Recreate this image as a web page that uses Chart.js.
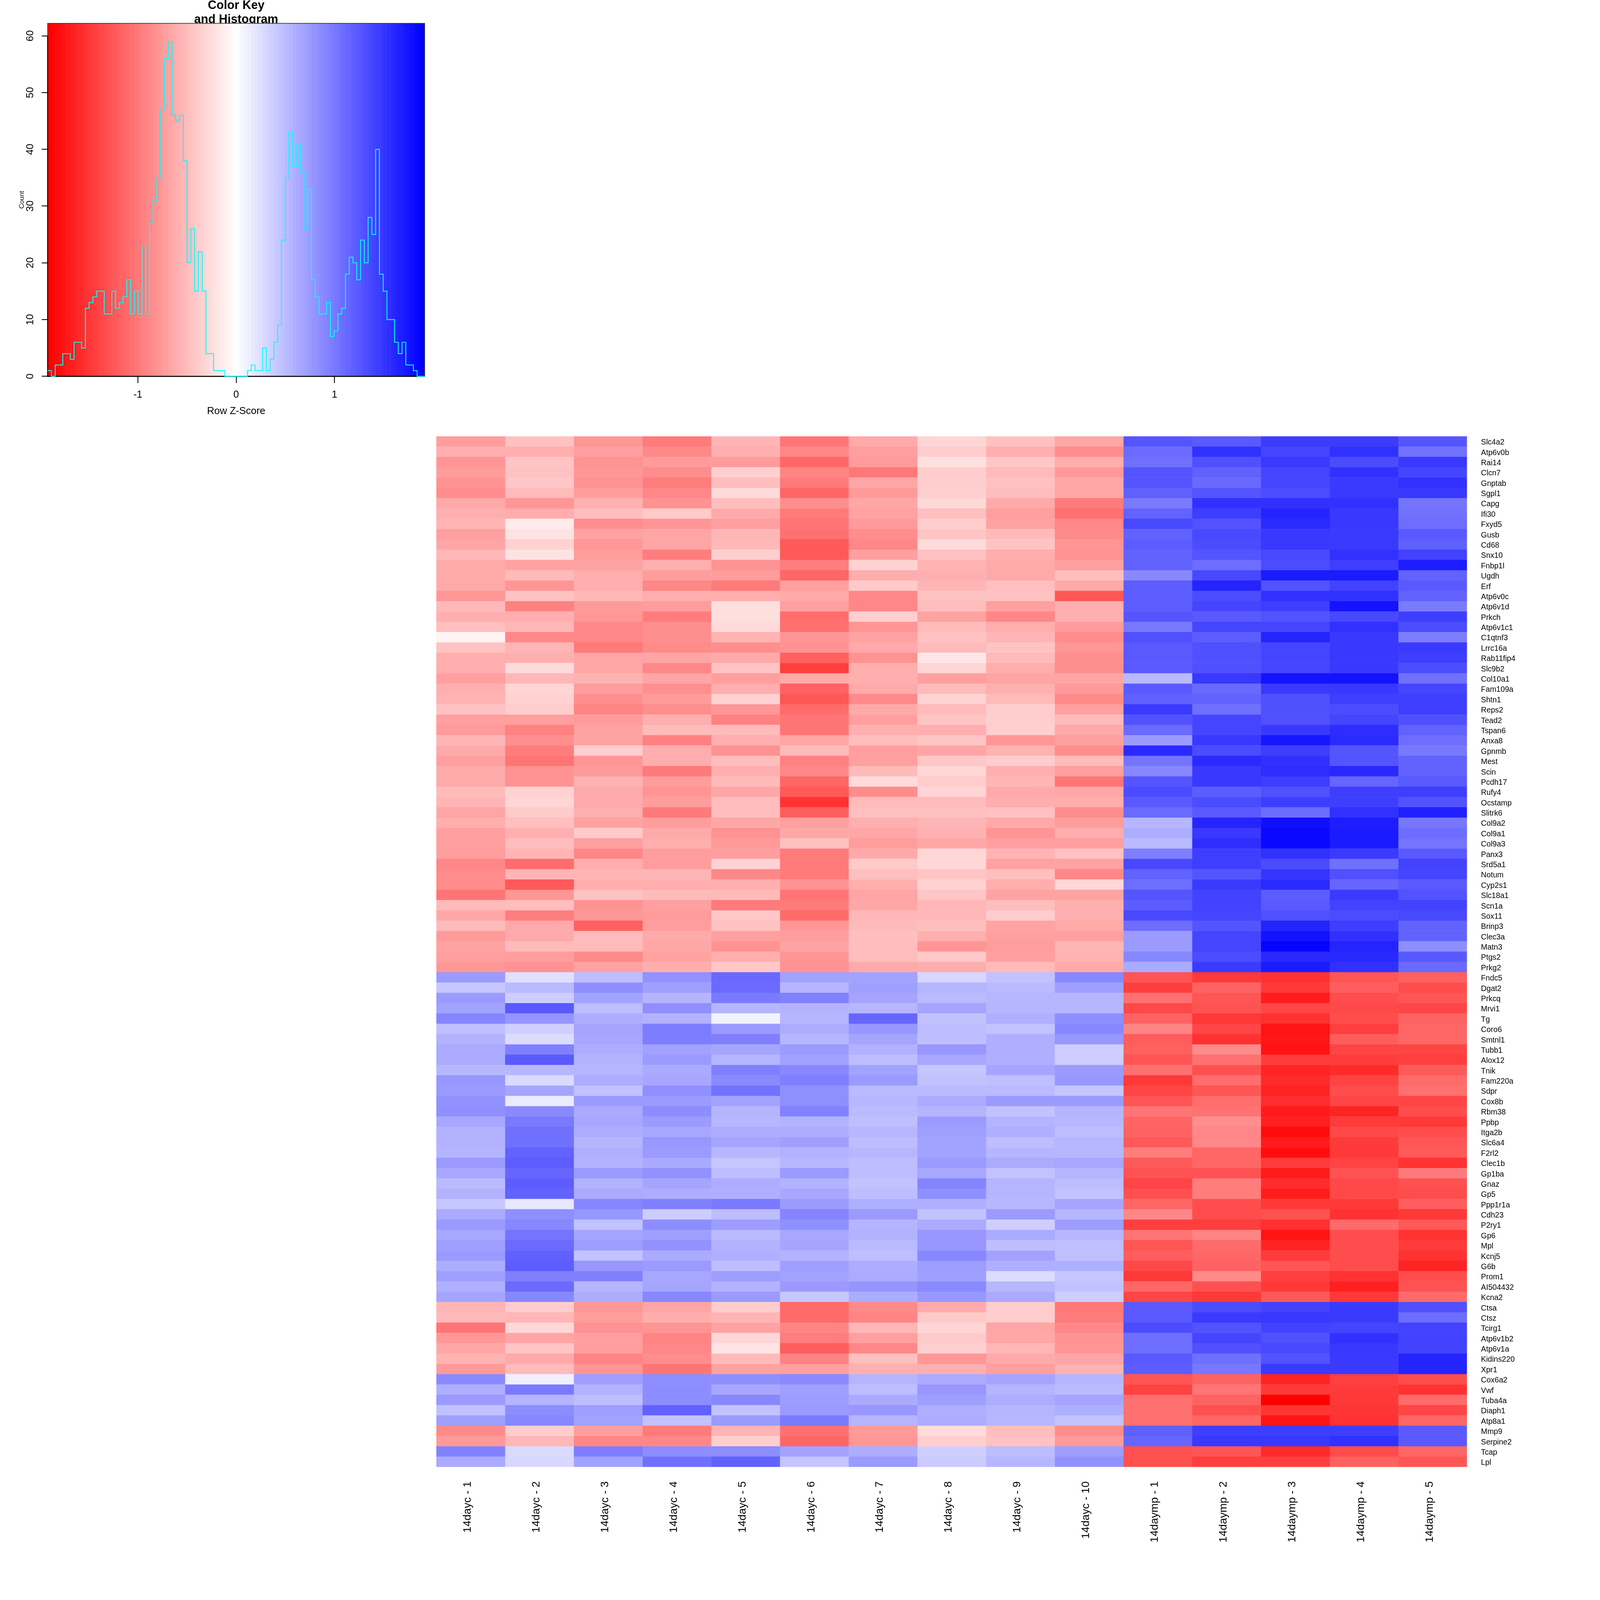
<!DOCTYPE html>
<html>
<head>
<meta charset="utf-8">
<style>
html,body{margin:0;padding:0;background:#fff;overflow:hidden}
canvas{position:absolute;left:0;top:0;display:block}
</style>
<script src="https://cdn.jsdelivr.net/npm/chart.js@4"></script>
</head>
<body>
<canvas id="heat" width="4800" height="4800"></canvas>
<canvas id="key" width="1320" height="1280"></canvas>
<script>
const samples = ["14dayc - 1","14dayc - 2","14dayc - 3","14dayc - 4","14dayc - 5","14dayc - 6","14dayc - 7","14dayc - 8","14dayc - 9","14dayc - 10","14daymp - 1","14daymp - 2","14daymp - 3","14daymp - 4","14daymp - 5"];
const genes = ["Slc4a2","Atp6v0b","Rai14","Clcn7","Gnptab","Sgpl1","Capg","Ifi30","Fxyd5","Gusb","Cd68","Snx10","Fnbp1l","Ugdh","Erf","Atp6v0c","Atp6v1d","Prkch","Atp6v1c1","C1qtnf3","Lrrc16a","Rab11fip4","Slc9b2","Col10a1","Fam109a","Shtn1","Reps2","Tead2","Tspan6","Anxa8","Gpnmb","Mest","Scin","Pcdh17","Rufy4","Ocstamp","Slitrk6","Col9a2","Col9a1","Col9a3","Panx3","Srd5a1","Notum","Cyp2s1","Slc18a1","Scn1a","Sox11","Brinp3","Clec3a","Matn3","Ptgs2","Prkg2","Fndc5","Dgat2","Prkcq","Mrvi1","Tg","Coro6","Smtnl1","Tubb1","Alox12","Tnik","Fam220a","Sdpr","Cox8b","Rbm38","Ppbp","Itga2b","Slc6a4","F2rl2","Clec1b","Gp1ba","Gnaz","Gp5","Ppp1r1a","Cdh23","P2ry1","Gp6","Mpl","Kcnj5","G6b","Prom1","AI504432","Kcna2","Ctsa","Ctsz","Tcirg1","Atp6v1b2","Atp6v1a","Kidins220","Xpr1","Cox6a2","Vwf","Tuba4a","Diaph1","Atp8a1","Mmp9","Serpine2","Tcap","Lpl"];

// Row z-scores in hundredths, one list per gene block
const blockA = [
[-74,-47,-79,-100,-56,-104,-64,-31,-47,-67,128,124,147,147,128],
[-60,-60,-72,-89,-60,-90,-72,-38,-60,-86,112,155,140,155,107],
[-80,-44,-82,-75,-75,-114,-75,-23,-42,-62,108,132,148,135,150],
[-74,-47,-78,-86,-36,-92,-102,-38,-52,-77,128,119,140,155,140],
[-82,-42,-81,-98,-50,-100,-66,-38,-47,-66,128,112,140,148,155],
[-86,-52,-74,-90,-28,-115,-76,-37,-49,-66,120,128,135,148,150],
[-65,-79,-58,-82,-49,-85,-66,-29,-64,-100,100,155,155,155,105],
[-60,-62,-50,-40,-64,-100,-70,-48,-72,-108,118,145,165,150,107],
[-56,-15,-84,-80,-72,-105,-76,-38,-70,-90,138,130,160,150,110],
[-72,-22,-70,-68,-55,-108,-86,-44,-52,-88,118,138,150,148,125],
[-68,-35,-78,-68,-53,-125,-90,-28,-45,-80,122,135,150,148,120],
[-54,-22,-74,-98,-37,-125,-72,-47,-62,-82,118,128,138,155,142],
[-64,-70,-70,-60,-82,-98,-34,-57,-64,-72,118,110,135,145,170],
[-64,-52,-62,-74,-74,-115,-62,-60,-64,-50,89,138,172,172,118],
[-64,-80,-60,-90,-100,-72,-40,-56,-48,-65,122,165,130,142,125],
[-78,-46,-54,-62,-62,-65,-90,-46,-46,-127,122,135,155,155,118],
[-53,-95,-76,-74,-25,-72,-90,-50,-72,-60,122,140,145,178,100],
[-60,-60,-78,-98,-25,-110,-36,-70,-90,-60,128,125,130,138,145],
[-48,-55,-90,-84,-28,-108,-80,-52,-62,-75,102,140,140,155,135],
[-8,-90,-90,-84,-57,-80,-70,-47,-56,-86,132,122,165,150,98],
[-45,-56,-100,-88,-85,-82,-64,-52,-45,-78,125,132,140,150,148],
[-60,-60,-68,-68,-64,-120,-82,-18,-52,-84,125,132,140,150,145],
[-62,-28,-66,-90,-45,-145,-62,-32,-62,-85,125,132,140,150,135],
[-72,-54,-58,-68,-72,-65,-60,-72,-68,-68,53,150,178,178,108],
[-60,-32,-74,-84,-62,-118,-64,-52,-60,-76,125,112,148,150,140],
[-58,-35,-84,-75,-35,-127,-88,-33,-52,-88,120,118,132,145,145],
[-47,-38,-92,-85,-78,-112,-64,-52,-38,-72,148,108,132,135,145],
[-72,-72,-75,-60,-95,-104,-72,-44,-38,-52,130,140,132,140,132],
[-76,-95,-70,-52,-52,-104,-60,-60,-37,-64,112,140,150,158,118],
[-56,-84,-70,-95,-60,-68,-50,-44,-78,-72,75,150,175,160,110],
[-64,-98,-37,-62,-82,-52,-72,-68,-58,-86,160,135,145,128,102],
[-72,-105,-80,-62,-50,-95,-72,-42,-38,-52,105,160,155,128,118],
[-64,-82,-76,-100,-60,-90,-52,-30,-60,-72,90,150,158,162,118],
[-64,-82,-58,-74,-52,-115,-28,-38,-55,-104,128,150,145,115,125],
[-52,-35,-64,-80,-66,-125,-86,-32,-64,-66,135,122,132,145,145],
[-56,-32,-64,-74,-50,-154,-52,-52,-62,-62,125,135,145,145,130],
[-68,-40,-60,-100,-50,-122,-48,-48,-47,-86,112,125,110,155,168],
[-60,-48,-70,-74,-66,-72,-60,-56,-64,-74,55,165,180,170,103],
[-72,-60,-40,-64,-82,-66,-66,-58,-80,-62,62,150,185,172,110],
[-72,-50,-72,-62,-76,-48,-74,-66,-72,-72,52,158,185,172,105],
[-74,-56,-90,-74,-74,-100,-64,-30,-57,-47,97,145,155,148,125],
[-90,-110,-62,-74,-33,-100,-40,-30,-70,-70,138,145,135,108,142],
[-87,-56,-56,-56,-90,-100,-48,-44,-48,-90,118,128,152,132,140],
[-87,-125,-62,-62,-60,-82,-60,-35,-62,-30,110,148,160,115,125],
[-104,-78,-46,-52,-52,-104,-68,-44,-70,-70,128,142,122,148,130],
[-52,-50,-82,-72,-100,-100,-66,-54,-50,-60,122,142,125,142,142],
[-66,-98,-78,-75,-42,-112,-54,-54,-38,-60,138,140,132,135,138],
[-52,-64,-120,-74,-47,-78,-52,-49,-70,-65,110,128,165,145,118],
[-76,-64,-52,-64,-72,-74,-48,-60,-72,-72,75,140,178,155,118],
[-70,-52,-52,-66,-82,-70,-50,-80,-74,-55,75,140,188,165,85],
[-72,-74,-88,-70,-62,-80,-50,-42,-72,-58,90,135,162,162,125],
[-78,-82,-70,-62,-42,-82,-64,-62,-52,-65,64,148,172,155,112]
];
const blockB = [
[75,23,50,83,113,70,70,30,46,90,-128,-150,-155,-128,-120],
[42,52,85,72,112,55,72,56,52,72,-145,-118,-150,-122,-135],
[75,38,70,56,100,95,68,52,55,55,-108,-128,-170,-135,-128],
[70,125,50,84,55,58,55,68,55,55,-138,-130,-140,-138,-140],
[92,80,62,58,10,55,115,46,60,85,-118,-150,-155,-135,-118],
[48,36,68,98,76,62,78,50,46,90,-92,-140,-178,-145,-115],
[58,26,66,98,96,55,68,48,60,78,-122,-155,-175,-122,-115],
[64,96,62,71,67,76,59,78,60,38,-120,-88,-178,-141,-141],
[64,124,58,76,56,71,50,66,60,38,-128,-107,-147,-147,-145],
[54,54,56,64,96,90,70,44,68,76,-107,-132,-165,-160,-124],
[78,28,62,66,88,96,76,46,48,78,-150,-110,-160,-142,-112],
[76,68,46,84,106,84,52,52,52,44,-140,-128,-165,-135,-108],
[82,15,76,76,70,84,54,64,76,76,-128,-110,-158,-140,-140],
[84,88,64,86,56,94,52,56,46,56,-104,-106,-172,-165,-135],
[66,100,66,76,54,58,48,76,56,54,-116,-84,-168,-148,-150],
[58,108,62,66,62,62,54,72,60,50,-118,-90,-182,-138,-135],
[58,108,56,78,68,72,50,70,50,55,-125,-90,-172,-148,-128],
[56,118,60,76,54,58,54,70,55,55,-98,-115,-182,-150,-125],
[76,122,58,64,44,54,50,76,64,66,-124,-115,-148,-142,-155],
[66,115,76,82,50,76,50,66,46,56,-130,-130,-172,-130,-100],
[52,122,58,68,62,58,46,92,56,50,-140,-98,-158,-138,-132],
[58,118,64,62,60,66,50,84,56,46,-132,-98,-170,-138,-135],
[44,18,92,96,100,76,60,60,54,68,-116,-135,-150,-150,-122],
[64,84,78,38,50,92,76,46,76,54,-90,-135,-130,-155,-150],
[75,90,46,86,74,84,56,64,36,74,-145,-145,-155,-112,-125],
[66,105,68,72,52,66,58,78,64,54,-105,-92,-178,-135,-155],
[72,112,74,82,58,68,52,78,48,48,-128,-112,-165,-135,-148],
[76,120,46,64,60,58,50,90,70,48,-122,-115,-148,-135,-155],
[62,122,78,76,50,72,62,74,60,60,-138,-118,-128,-135,-165],
[72,96,96,66,74,70,64,72,26,44,-150,-88,-145,-155,-135],
[60,112,56,68,58,76,80,88,54,46,-115,-132,-150,-168,-130],
[68,90,62,90,76,42,62,78,64,38,-140,-150,-125,-150,-112]
];
const blockC = [
[-56,-38,-78,-68,-38,-112,-88,-64,-38,-102,125,135,142,148,132],
[-52,-55,-74,-62,-56,-112,-92,-40,-38,-100,125,148,150,148,110],
[-104,-30,-82,-80,-70,-92,-55,-32,-68,-90,135,130,142,140,142],
[-78,-68,-72,-92,-30,-98,-72,-40,-66,-82,110,140,132,155,142],
[-66,-44,-74,-90,-20,-122,-90,-36,-55,-80,110,132,138,150,142],
[-58,-65,-92,-86,-52,-94,-48,-78,-64,-68,125,108,130,148,165],
[-76,-52,-80,-104,-70,-72,-60,-60,-72,-58,122,102,148,148,165]
];
const blockD = [
[88,12,72,85,84,88,56,64,68,56,-128,-118,-165,-145,-135],
[60,100,58,86,66,72,50,78,56,52,-142,-105,-148,-148,-155],
[76,56,50,86,90,74,64,72,62,68,-108,-118,-192,-150,-112],
[47,86,72,118,46,76,78,60,56,60,-108,-132,-152,-152,-140],
[72,90,70,46,76,100,56,62,54,46,-108,-115,-176,-155,-115]
];
const blockE = [
[-88,-38,-72,-100,-56,-108,-76,-26,-50,-86,120,145,145,145,125],
[-76,-54,-90,-90,-36,-115,-78,-36,-47,-76,115,150,150,155,125]
];
const blockF = [
[95,28,98,86,86,70,62,36,50,74,-132,-128,-160,-135,-115],
[64,30,70,108,118,44,76,40,55,82,-132,-145,-145,-120,-128]
];
const zRows = [...blockA, ...blockB, ...blockC, ...blockD, ...blockE, ...blockF];

// Histogram counts per bin, left to right
const histCounts = [1,0,2,2,4,4,3,6,6,5,12,13,14,15,15,11,11,15,12,13,14,17,11,15,11,23,11,27,31,35,47,56,59,46,45,46,38,20,26,15,22,15,4,4,1,1,1,0,0,0,0,0,0,1,2,1,1,5,1,3,6,9,24,35,43,37,41,36,26,33,17,14,11,11,13,7,8,11,12,18,21,20,17,24,20,28,25,40,18,15,10,10,6,4,6,2,2,1,0,0];
const countTicks = [0,10,20,30,40,50,60];
const zLimit = 1.917;
const keyBands = 100;

// The page is laid out on a 4800-unit square and fitted to the actual window.
const pageScale = Math.min(window.innerWidth, window.innerHeight) / 4800;
for (const id of ['heat', 'key']) {
  const cv = document.getElementById(id);
  cv.style.width = (cv.width * pageScale) + 'px';
  cv.style.height = (cv.height * pageScale) + 'px';
}

Chart.defaults.font.family = '"Liberation Sans", Arial, sans-serif';
Chart.defaults.color = '#000';

function tint(t){
  return Math.round(255 * (1 - Math.min(1, t)));
}
function zColor(v){ // v: z-score in hundredths; red below zero, blue above
  const c = tint(Math.abs(v) / 192);
  return v < 0 ? `rgb(255,${c},${c})` : `rgb(${c},${c},255)`;
}

// Heatmap: one stacked bar dataset per sample, one category row per gene
new Chart(document.getElementById('heat'), {
  type: 'bar',
  data: {
    labels: genes,
    datasets: samples.map((s, j) => ({
      label: s,
      data: genes.map(() => 1),
      backgroundColor: zRows.map(r => zColor(r[j])),
      borderWidth: 0,
      barPercentage: 1,
      categoryPercentage: 1
    }))
  },
  options: {
    indexAxis: 'y',
    responsive: false,
    devicePixelRatio: pageScale,
    animation: false,
    layout: { padding: { left: 1309, top: 1309, right: 0, bottom: 0 } },
    plugins: { legend: { display: false }, tooltip: { enabled: false }, title: { display: false } },
    scales: {
      x: { type: 'linear', stacked: true, min: 0, max: samples.length, display: false },
      y: {
        type: 'category', position: 'right', stacked: true, offset: true,
        grid: { display: false }, border: { display: false },
        ticks: { autoSkip: false, font: { size: 23 }, padding: 34, labelOffset: 3, color: '#000' },
        afterFit(s) { s.width = 399; }
      },
      xSamples: {
        type: 'category', axis: 'x', position: 'bottom', labels: samples, offset: true,
        grid: { display: false, drawTicks: false }, border: { display: false },
        ticks: { autoSkip: false, minRotation: 90, maxRotation: 90, font: { size: 33 }, padding: 43, labelOffset: -9, color: '#000' },
        afterFit(s) { s.height = 399; }
      }
    }
  }
});

// Colour key and histogram
const keyPlugin = {
  id: 'keyPlugin',
  beforeDatasetsDraw(chart) {
    const { ctx, chartArea: a, scales: { x, y } } = chart;
    const w = 2 * zLimit / keyBands;
    ctx.save();
    for (let i = 0; i < keyBands; i++) {
      const mid = (keyBands - 1) / 2;
      const t = Math.abs(i - mid) / mid;
      const c = tint(t);
      ctx.fillStyle = i < keyBands / 2 ? `rgb(255,${c},${c})` : `rgb(${c},${c},255)`;
      const x0 = x.getPixelForValue(-zLimit + i * w);
      const x1 = x.getPixelForValue(-zLimit + (i + 1) * w);
      ctx.fillRect(x0, a.top, x1 - x0 + 0.6, a.bottom - a.top);
    }
    ctx.strokeStyle = '#333';
    ctx.lineWidth = 2;
    ctx.strokeRect(a.left, a.top, a.right - a.left, a.bottom - a.top);
    ctx.strokeStyle = '#000';
    ctx.lineWidth = 3;
    ctx.beginPath();
    ctx.moveTo(a.left, y.getPixelForValue(countTicks[countTicks.length - 1]));
    ctx.lineTo(a.left, y.getPixelForValue(0));
    ctx.lineTo(a.right, y.getPixelForValue(0));
    ctx.stroke();
    ctx.restore();
  },
  afterDraw(chart) {
    const { ctx, scales: { y } } = chart;
    ctx.save();
    ctx.fillStyle = '#000';
    ctx.font = '30px "Liberation Sans", Arial, sans-serif';
    ctx.textAlign = 'center';
    ctx.textBaseline = 'middle';
    countTicks.forEach(v => {
      ctx.save();
      ctx.translate(91, y.getPixelForValue(v));
      ctx.rotate(-Math.PI / 2);
      ctx.fillText(String(v), 0, 0);
      ctx.restore();
    });
    ctx.restore();
  }
};

const binW = 2 * zLimit / histCounts.length;
const histPoints = histCounts.map((c, i) => ({ x: -zLimit + i * binW, y: c }));
histPoints.push({ x: zLimit, y: histCounts[histCounts.length - 1] });

new Chart(document.getElementById('key'), {
  type: 'line',
  data: {
    datasets: [{
      data: histPoints,
      stepped: 'before',
      borderColor: '#00ffff',
      borderWidth: 2.6,
      pointRadius: 0,
      fill: false,
      clip: false
    }]
  },
  options: {
    responsive: false,
    devicePixelRatio: pageScale,
    animation: false,
    layout: { padding: { left: 0, top: 0, right: 46, bottom: 0 } },
    plugins: {
      legend: { display: false },
      tooltip: { enabled: false },
      title: {
        display: true, fullSize: false,
        text: ['Color Key', 'and Histogram'],
        color: '#000',
        font: { size: 36, weight: 'bold', lineHeight: 43 / 36 },
        padding: { top: -5, bottom: -11 }
      }
    },
    scales: {
      x: {
        type: 'linear', min: -zLimit, max: zLimit,
        grid: { display: true, drawOnChartArea: false, drawTicks: true, tickLength: 20, color: '#000', lineWidth: 2.5 },
        border: { display: false },
        ticks: { stepSize: 1, includeBounds: false, font: { size: 30 }, padding: 18, maxRotation: 0, color: '#000' },
        title: { display: true, text: 'Row Z-Score', font: { size: 30 }, color: '#000', padding: { top: 0, bottom: 28 } },
        afterFit(s) { s.height = 151; }
      },
      y: {
        type: 'linear', min: 0, max: 62.2,
        grid: { display: true, drawOnChartArea: false, drawTicks: true, tickLength: 18, color: '#000', lineWidth: 2.5 },
        border: { display: false },
        ticks: { display: false, stepSize: 10, includeBounds: false },
        title: { display: true, text: 'Count', font: { size: 20 }, color: '#000', padding: { top: 54, bottom: 0 } },
        afterFit(s) { s.width = 143; }
      }
    }
  },
  plugins: [keyPlugin]
});
</script>
</body>
</html>
